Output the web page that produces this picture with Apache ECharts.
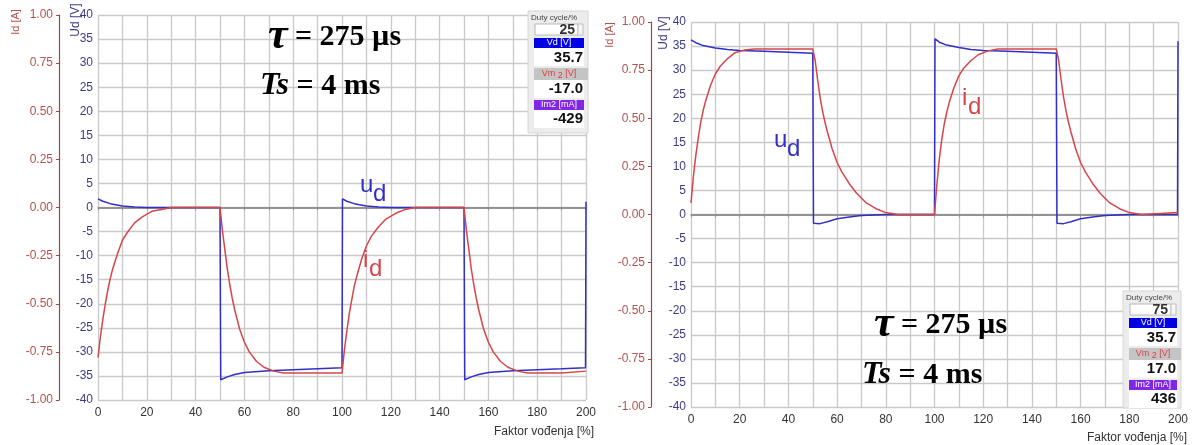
<!DOCTYPE html>
<html>
<head>
<meta charset="UTF-8">
<title>ud / id</title>
<script src="https://cdn.jsdelivr.net/npm/echarts@6/dist/echarts.min.js"></script>
<style>
  html, body { margin: 0; padding: 0; background: #fff; }
  #chart { width: 1195px; height: 445px; }
</style>
</head>
<body>
<div id="chart"></div>
<script>
// left scope: duty cycle 25 %
const leftUdX = [0, 2, 5, 10, 15, 20, 30, 40, 50, 50.3, 51, 53, 56, 60, 70, 80, 90, 100, 100.2, 102, 105, 110, 115, 120, 130, 140, 150, 150.3, 151, 153, 156, 160, 170, 180, 190, 199.8, 200];
const leftUd = [1.8, 1.3, 0.8, 0.3, 0.1, 0, 0, 0, 0, -35.8, -35.9, -35.2, -34.7, -34.3, -33.9, -33.7, -33.5, -33.3, 1.8, 1.3, 0.8, 0.3, 0.1, 0, 0, 0, 0, -35.8, -35.9, -35.2, -34.7, -34.3, -33.9, -33.7, -33.5, -33.3, 1.2];
const leftIdX = [0, 1, 2, 3, 4, 5, 6, 8, 10, 12, 15, 18, 22, 26, 30, 40, 50, 51, 52, 53, 54, 55, 56, 58, 60, 62, 65, 68, 72, 76, 80, 90, 100, 101, 102, 103, 104, 105, 106, 108, 110, 112, 115, 118, 122, 126, 130, 140, 150, 151, 152, 153, 154, 155, 156, 158, 160, 162, 165, 168, 172, 176, 180, 190, 200];
const leftId = [-0.78, -0.67, -0.58, -0.50, -0.43, -0.37, -0.32, -0.24, -0.17, -0.13, -0.08, -0.05, -0.02, -0.01, 0, 0, 0, -0.12, -0.22, -0.32, -0.40, -0.47, -0.53, -0.63, -0.70, -0.75, -0.80, -0.83, -0.85, -0.86, -0.86, -0.86, -0.86, -0.74, -0.64, -0.55, -0.48, -0.41, -0.36, -0.27, -0.20, -0.15, -0.10, -0.06, -0.03, -0.01, 0, 0, 0, -0.12, -0.22, -0.32, -0.40, -0.47, -0.53, -0.63, -0.70, -0.75, -0.80, -0.83, -0.85, -0.86, -0.86, -0.86, -0.85];
const leftPanel = ['25', '35.7', '-17.0', '-429'];

// right scope: duty cycle 75 %
const rightUdX = [0, 2, 5, 10, 15, 20, 30, 40, 50, 50.3, 51, 53, 56, 60, 65, 70, 75, 80, 100, 100.2, 102, 105, 110, 115, 120, 130, 140, 150, 150.3, 151, 153, 156, 160, 165, 170, 175, 180, 199.8, 200];
const rightUd = [36.3, 35.7, 35.1, 34.6, 34.3, 34.1, 33.9, 33.7, 33.5, -1.8, -2.2, -1.9, -1.5, -0.9, -0.5, -0.2, -0.1, 0, 0, 36.5, 35.8, 35.2, 34.7, 34.3, 34.1, 33.9, 33.7, 33.5, -1.8, -2.2, -1.9, -1.5, -0.9, -0.5, -0.2, -0.1, 0, 0, 36.0];
const rightIdX = [0, 1, 2, 3, 4, 5, 6, 8, 10, 12, 15, 18, 22, 26, 30, 40, 50, 51, 52, 53, 54, 55, 56, 58, 60, 62, 65, 68, 72, 76, 80, 85, 100, 101, 102, 103, 104, 105, 106, 108, 110, 112, 115, 118, 122, 126, 130, 140, 150, 151, 152, 153, 154, 155, 156, 158, 160, 162, 165, 168, 172, 176, 180, 185, 200];
const rightId = [0.06, 0.20, 0.31, 0.40, 0.48, 0.54, 0.59, 0.67, 0.73, 0.77, 0.81, 0.84, 0.855, 0.86, 0.86, 0.86, 0.86, 0.80, 0.70, 0.61, 0.54, 0.48, 0.43, 0.34, 0.27, 0.22, 0.16, 0.11, 0.06, 0.03, 0.01, 0, 0, 0.16, 0.29, 0.39, 0.47, 0.53, 0.58, 0.66, 0.72, 0.76, 0.80, 0.83, 0.85, 0.86, 0.86, 0.86, 0.86, 0.80, 0.70, 0.61, 0.54, 0.48, 0.43, 0.34, 0.27, 0.22, 0.16, 0.11, 0.06, 0.03, 0.01, 0, 0.01];
const rightPanel = ['75', '35.7', '17.0', '436'];

const xName = 'Faktor vođenja [%]';

const SANS = 'Liberation Sans, Arial, sans-serif';
const SERIF = 'Liberation Serif, Times New Roman, serif';
const BLUE = '#3030c4';
const RED = '#d6454a';
const UD_LABEL = '#3c3c86';
const ID_LABEL = '#b5524d';
const GRID = '#c9c9c9';

const zip = (xs, ys) => xs.map((x, i) => [x, ys[i]]);

function xAxisFor(gi) {
  return {
    type: 'value', gridIndex: gi, min: 0, max: 200, interval: 10,
    axisLine: { lineStyle: { color: '#a0a0a0', width: 1.5 } },
    axisTick: { show: true, length: 3, lineStyle: { color: '#999' } },
    axisLabel: { color: '#333', fontSize: 12, fontFamily: SANS, margin: 7,
      formatter: v => (v % 20 === 0 ? String(v) : '') },
    splitLine: { show: true, lineStyle: { color: GRID, width: 1.3 } }
  };
}
function udAxisFor(gi) {
  return {
    type: 'value', gridIndex: gi, position: 'left', min: -40, max: 40, interval: 5,
    axisLine: { show: false }, axisTick: { show: false },
    axisLabel: { color: UD_LABEL, fontSize: 12, fontFamily: SANS, margin: 5 },
    splitLine: { show: true, lineStyle: { color: GRID, width: 1.3 } }
  };
}
function idAxisFor(gi, off) {
  return {
    type: 'value', gridIndex: gi, position: 'left', offset: off, min: -1, max: 1, interval: 0.25,
    axisLine: { show: true, lineStyle: { color: '#a8443f', width: 1.2 } },
    axisTick: { show: true, length: 3, lineStyle: { color: '#a8443f' } },
    axisLabel: { color: ID_LABEL, fontSize: 12, fontFamily: SANS, margin: 6,
      formatter: v => v.toFixed(2) },
    splitLine: { show: false }
  };
}
function trace(data, xi, yi, color, zero) {
  const s = {
    type: 'line', data, xAxisIndex: xi, yAxisIndex: yi, showSymbol: false, symbol: 'none',
    smooth: false, lineStyle: { color, width: 1.5 }, itemStyle: { color }, z: 3
  };
  if (zero) {
    s.markLine = { silent: true, symbol: 'none', label: { show: false },
      lineStyle: { color: '#8a8a8a', width: 1.5, type: 'solid' }, data: [{ yAxis: 0 }], z: 2 };
  }
  return s;
}

function txt(x, y, text, o) {
  return { type: 'text', x, y, rotation: o.rot || 0, z: 10,
    style: Object.assign({ text, fontFamily: SANS, fill: '#222', align: 'left', verticalAlign: 'middle' }, o.style) };
}
function box(x, y, w, h, fill, stroke) {
  return { type: 'rect', z: 9, shape: { x, y, width: w, height: h }, style: { fill, stroke: stroke || null, lineWidth: 1 } };
}
function panel(x0, y0, w, h, vals) {
  const r = x0 + w - 5;
  return [
    box(x0, y0, w, h, '#ececec', '#d6d6d6'),
    txt(x0 + 3, y0 + 7, 'Duty cycle/%', { style: { fontSize: 8, fill: '#444' } }),
    box(x0 + 7, y0 + 13, w - 17, 11, '#fff', '#b8b8b8'),
    box(x0 + w - 10, y0 + 13, 5, 11, '#f6f6f6', '#c0c0c0'),
    txt(x0 + w - 13, y0 + 19, vals[0], { style: { fontSize: 14, fontWeight: 'bold', fill: '#333', align: 'right' } }),
    box(x0 + 6, y0 + 27, w - 10, 10, '#0000e4'),
    txt(x0 + 6 + (w - 10) / 2, y0 + 32, 'Vd [V]', { style: { fontSize: 9, fill: '#fff', align: 'center' } }),
    box(x0 + 6, y0 + 37, w - 10, 18, '#fff'),
    txt(r, y0 + 47, vals[1], { style: { fontSize: 15, fontWeight: 'bold', fill: '#111', align: 'right' } }),
    box(x0 + 6, y0 + 57, w - 6, 12, '#c4c4c4'),
    txt(x0 + 6 + (w - 10) / 2, y0 + 63, '{a|Vm}{b| 2 }{a|[V]}', { style: { align: 'center', fill: '#e23c3c',
      rich: { a: { fontSize: 9, fill: '#e23c3c', fontFamily: SANS }, b: { fontSize: 9, fill: '#e23c3c', fontFamily: SANS, padding: [4, 0, 0, 0] } } } }),
    box(x0 + 6, y0 + 69, w - 10, 18, '#fff'),
    txt(r, y0 + 78, vals[2], { style: { fontSize: 15, fontWeight: 'bold', fill: '#111', align: 'right' } }),
    box(x0 + 6, y0 + 89, w - 10, 10, '#7f27e4'),
    txt(x0 + 6 + (w - 10) / 2, y0 + 94, 'Im2 [mA]', { style: { fontSize: 9, fill: '#fff', align: 'center' } }),
    box(x0 + 6, y0 + 99, w - 10, 18, '#fff'),
    txt(r, y0 + 108, vals[3], { style: { fontSize: 15, fontWeight: 'bold', fill: '#111', align: 'right' } })
  ];
}
function formula(x1, y1, x2, y2) {
  return [
    txt(x1, y1, '{t|τ}{e| = 275 µs}', { style: { rich: {
      t: { fontFamily: SERIF, fontStyle: 'italic', fontWeight: 'bold', fontSize: 44, fill: '#000' },
      e: { fontFamily: SERIF, fontWeight: 'bold', fontSize: 30, fill: '#000' } } } }),
    txt(x2, y2, '{t|Ts}{e| = 4 ms}', { style: { rich: {
      t: { fontFamily: SERIF, fontStyle: 'italic', fontWeight: 'bold', fontSize: 32, fill: '#000' },
      e: { fontFamily: SERIF, fontWeight: 'bold', fontSize: 30, fill: '#000' } } } })
  ];
}
function sub(x, y, main, s, color) {
  return [
    txt(x, y, main, { style: { fontSize: 24, fill: color, verticalAlign: 'bottom' } }),
    txt(x + (main === 'u' ? 13 : 6), y + 9, s, { style: { fontSize: 24, fill: color, verticalAlign: 'bottom' } })
  ];
}
function axisNames(xId, yId, xUd, yUd) {
  return [
    txt(xId, yId, 'Id [A]', { rot: Math.PI / 2, style: { fontSize: 11, fill: ID_LABEL, align: 'center' } }),
    txt(xUd, yUd, 'Ud [V]', { rot: Math.PI / 2, style: { fontSize: 12, fill: UD_LABEL, align: 'center' } })
  ];
}

const graphic = [].concat(
  axisNames(16, 22, 76, 20),
  axisNames(610, 35, 664, 33),
  panel(528, 11, 60, 122, leftPanel),
  panel(1123, 291, 58, 117, rightPanel),
  formula(268, 37, 260, 86),
  formula(874, 325, 862, 375),
  sub(360, 197, 'u', 'd', BLUE),
  sub(363, 272, 'i', 'd', RED),
  sub(774, 152, 'u', 'd', BLUE),
  sub(962, 110, 'i', 'd', RED),
  [
    txt(594, 432, xName, { style: { fontSize: 12, fill: '#333', align: 'right' } }),
    txt(1187, 438, xName, { style: { fontSize: 12, fill: '#333', align: 'right' } })
  ]
);

const chart = echarts.init(document.getElementById('chart'), null, { renderer: 'canvas' });
chart.setOption({
  animation: false,
  backgroundColor: '#fff',
  grid: [
    { left: 98, top: 15, width: 488, height: 385 },
    { left: 691, top: 22, width: 487, height: 385 }
  ],
  xAxis: [xAxisFor(0), xAxisFor(1)],
  yAxis: [udAxisFor(0), idAxisFor(0, 39), udAxisFor(1), idAxisFor(1, 40)],
  series: [
    trace(zip(leftUdX, leftUd), 0, 0, BLUE, true),
    trace(zip(leftIdX, leftId), 0, 1, RED, false),
    trace(zip(rightUdX, rightUd), 1, 2, BLUE, true),
    trace(zip(rightIdX, rightId), 1, 3, RED, false)
  ],
  graphic
});
</script>
</body>
</html>
